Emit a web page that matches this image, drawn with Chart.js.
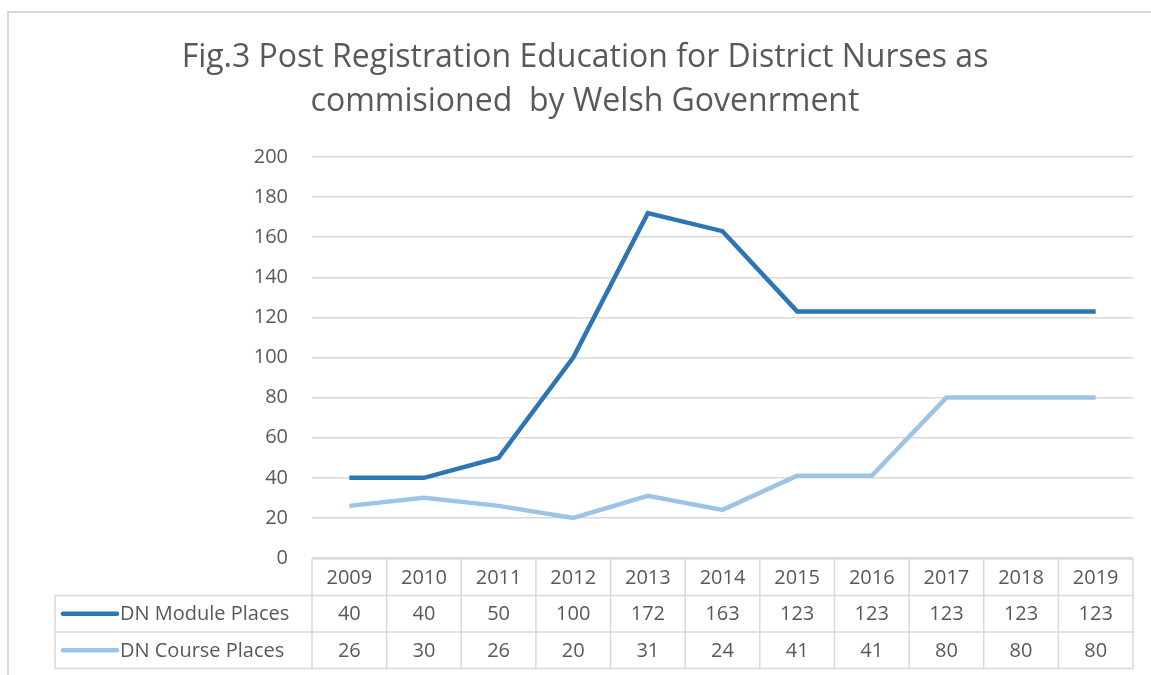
<!DOCTYPE html>
<html>
<head>
<meta charset="utf-8">
<script src="https://cdn.jsdelivr.net/npm/chart.js@4.4.1/dist/chart.umd.min.js"></script>
<style>
  body { margin: 0; background: #fff; }
  #wrap { position: relative; width: 1151px; height: 675px; overflow: hidden; }
  #frame { position: absolute; left: 7px; top: 11px; width: 1200px; height: 700px;
           border-top: 2px solid #d9d9d9; border-left: 2px solid #d9d9d9; }
  canvas { position: absolute; left: 0; top: 0; }
</style>
</head>
<body>
<div id="wrap">
  <div id="frame"></div>
  <canvas id="line-chart" width="1151" height="675"></canvas>
</div>
<script>
var years = ["2009", "2010", "2011", "2012", "2013", "2014", "2015", "2016", "2017", "2018", "2019"];
var moduleVals = [40, 40, 50, 100, 172, 163, 123, 123, 123, 123, 123];
var courseVals = [26, 30, 26, 20, 31, 24, 41, 41, 80, 80, 80];
var seriesNames = ["DN Module Places", "DN Course Places"];
var yTicks = [0, 20, 40, 60, 80, 100, 120, 140, 160, 180, 200];

var textCol = "#595959";
var gridCol = "#d9d9d9";
var fontFam = "'Open Sans', 'Noto Sans', sans-serif";

// data table under the plot, drawn from the category axis positions
var dataTable = {
    id: 'dataTable',
    afterDraw: function (chart) {
        var ctx = chart.ctx;
        var xs = chart.scales.x;
        var area = chart.chartArea;
        var n = years.length;
        var cw = (area.right - area.left) / n;
        var rowH = 36.5;
        var top = area.bottom + 1;
        var legLeft = 55;
        ctx.save();
        ctx.strokeStyle = gridCol;
        ctx.lineWidth = 1.5;
        // horizontal lines
        ctx.beginPath();
        ctx.moveTo(area.left, top); ctx.lineTo(area.right, top);
        for (var r = 1; r <= 3; r++) {
            ctx.moveTo(legLeft, top + rowH * r); ctx.lineTo(area.right, top + rowH * r);
        }
        // vertical lines
        for (var i = 0; i <= n; i++) {
            var x = area.left + cw * i;
            ctx.moveTo(x, top); ctx.lineTo(x, top + rowH * 3);
        }
        ctx.moveTo(legLeft, top + rowH); ctx.lineTo(legLeft, top + rowH * 3);
        ctx.stroke();

        ctx.fillStyle = textCol;
        ctx.font = "20px " + fontFam;
        ctx.textAlign = "center";
        ctx.textBaseline = "middle";
        var rows = [years, moduleVals, courseVals];
        for (var r2 = 0; r2 < 3; r2++) {
            for (var j = 0; j < n; j++) {
                ctx.fillText(String(rows[r2][j]), xs.getPixelForValue(j), top + rowH * r2 + rowH / 2 + 1);
            }
        }
        // legend keys
        ctx.textAlign = "left";
        chart.data.datasets.forEach(function (ds, k) {
            var cy = top + rowH * (k + 1) + rowH / 2;
            ctx.strokeStyle = ds.borderColor;
            ctx.lineWidth = 4.5;
            ctx.lineCap = "round";
            ctx.beginPath();
            ctx.moveTo(63, cy); ctx.lineTo(117, cy);
            ctx.stroke();
            ctx.fillText(ds.label, 120, cy + 1);
        });
        ctx.restore();
    }
};

new Chart(document.getElementById("line-chart"), {
    type: 'line',
    data: {
        labels: years,
        datasets: [
            {
                label: seriesNames[0],
                data: moduleVals,
                borderColor: "#2e75b6",
                borderWidth: 4.5,
                pointRadius: 0,
                tension: 0,
                fill: false
            },
            {
                label: seriesNames[1],
                data: courseVals,
                borderColor: "#9dc3e6",
                borderWidth: 4.5,
                pointRadius: 0,
                tension: 0,
                fill: false
            }
        ]
    },
    options: {
        responsive: false,
        animation: false,
        layout: { padding: { left: 19, right: 0, top: 0, bottom: 7 } },
        plugins: {
            legend: { display: false },
            tooltip: { enabled: false },
            title: {
                display: true,
                text: ["Fig.3 Post Registration Education for District Nurses as", "commisioned  by Welsh Govenrment"],
                color: textCol,
                font: { family: fontFam, size: 32, weight: 'normal', lineHeight: 1.375 },
                padding: { top: 36, bottom: 33 }
            }
        },
        scales: {
            x: {
                offset: true,
                grid: { display: false, drawTicks: false },
                border: { display: false },
                ticks: { display: false },
                afterFit: function (scale) { scale.height = 110; }
            },
            y: {
                min: 0,
                max: 200,
                afterBuildTicks: function (scale) {
                    scale.ticks = yTicks.map(function (v) { return { value: v }; });
                },
                grid: { color: gridCol, lineWidth: 1.5, drawTicks: false },
                border: { display: false },
                ticks: {
                    color: textCol,
                    font: { family: fontFam, size: 20 },
                    padding: 24
                },
                afterFit: function (scale) { scale.width = 293; }
            },
            // empty spacer on the right so the plot stops where the reference does
            y2: {
                position: 'right',
                min: 0,
                max: 200,
                grid: { display: false, drawTicks: false },
                border: { display: false },
                ticks: { display: false },
                afterFit: function (scale) { scale.width = 18; }
            }
        }
    },
    plugins: [dataTable]
});
</script>
</body>
</html>
